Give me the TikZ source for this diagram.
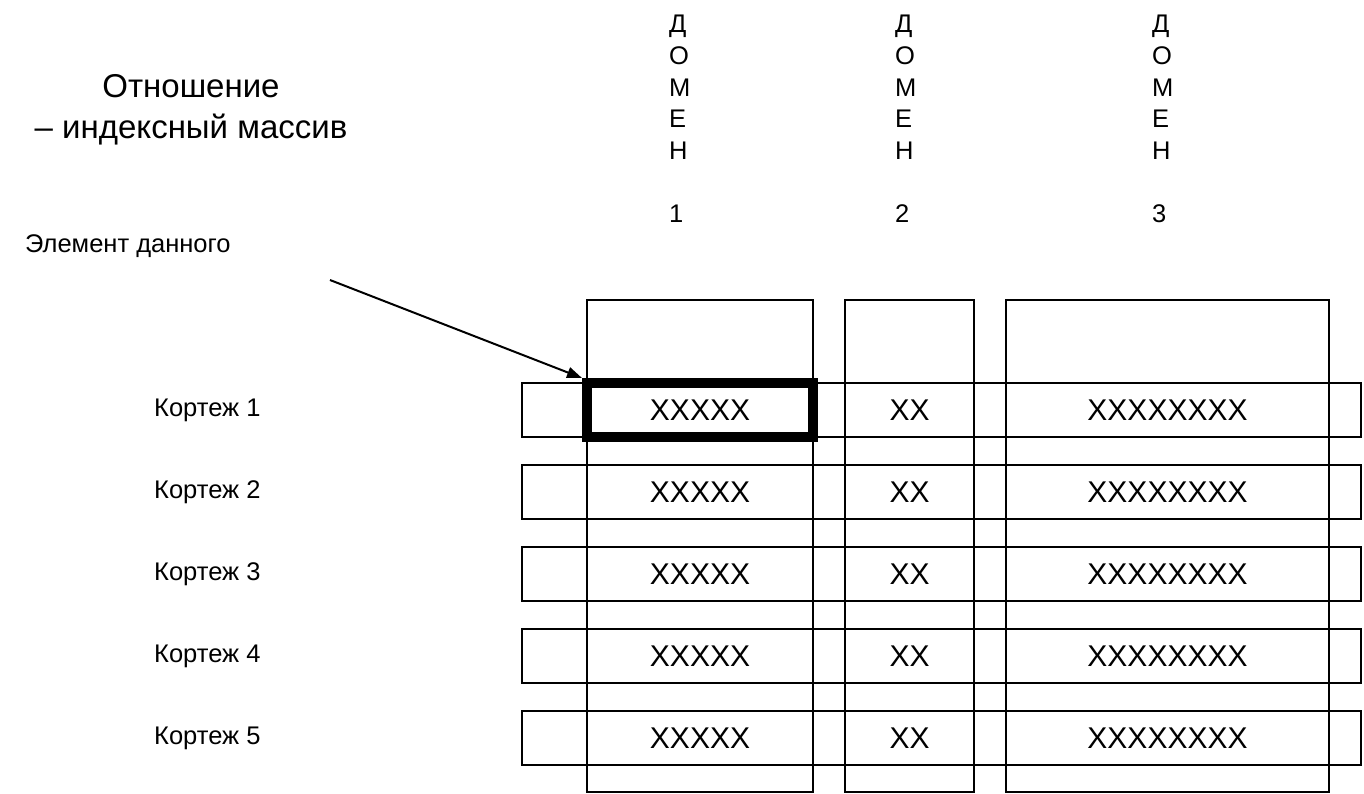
\documentclass[tikz,border=0pt]{standalone}
\usepackage{fontspec}
\setmainfont{Liberation Sans}
\usetikzlibrary{arrows.meta}

\tikzset{
  colbox/.style={draw, line width=1.5pt, inner sep=0pt, minimum height=492pt},
  rowbox/.style={draw, line width=1.5pt, inner sep=0pt, minimum width=839pt, minimum height=54pt},
  cell/.style={inner sep=0pt, font=\fontsize{30}{36}\selectfont},
  tuple/.style={anchor=west, inner sep=0pt, font=\fontsize{25.5}{30}\selectfont},
  domhead/.style={anchor=north west, inner sep=0pt, align=left, font=\fontsize{25.5}{31.7}\selectfont}
}

\begin{document}
\begin{tikzpicture}[x=1pt, y=-1pt]
\useasboundingbox (0,0) rectangle (1364,793);

%%% title %%%
      \node[anchor=base, align=center, inner sep=0pt, font=\fontsize{33}{41}\selectfont] (title) at (191,138)
        { Отношение \\ -- индексный массив };

      %% domains
      \node[domhead] (dom1) at (669,15) { Д\\О\\М\\Е\\Н\\\mbox{}\\1 };
      \node[domhead] (dom2) at (895,15) { Д\\О\\М\\Е\\Н\\\mbox{}\\2 };
      \node[domhead] (dom3) at (1152,15) { Д\\О\\М\\Е\\Н\\\mbox{}\\3 };

      %% columns
      \node[colbox, minimum width=226pt] (col1) at (700,546) {};
      \node[colbox, minimum width=129pt] (col2) at (909.5,546) {};
      \node[colbox, minimum width=323pt] (col3) at (1167.5,546) {};

      %% rows
      \node[rowbox] (row1) at (941.5,410) {};
      \node[rowbox] (row2) at (941.5,492) {};
      \node[rowbox] (row3) at (941.5,574) {};
      \node[rowbox] (row4) at (941.5,656) {};
      \node[rowbox] (row5) at (941.5,738) {};

      \node[tuple] (tup1) at (154,410) { Кортеж 1 };
      \node[tuple] (tup2) at (154,492) { Кортеж 2 };
      \node[tuple] (tup3) at (154,574) { Кортеж 3 };
      \node[tuple] (tup4) at (154,656) { Кортеж 4 };
      \node[tuple] (tup5) at (154,738) { Кортеж 5 };

      %% values
      \node[cell, draw, line width=10pt, minimum width=226pt, minimum height=54pt] (c11) at (700,410) { XXXXX };
      \node[cell] (c12) at (909.5,410) { XX };
      \node[cell] (c13) at (1167.5,410) { XXXXXXXX };
      \node[cell] (c21) at (700,492) { XXXXX };
      \node[cell] (c22) at (909.5,492) { XX };
      \node[cell] (c23) at (1167.5,492) { XXXXXXXX };
      \node[cell] (c31) at (700,574) { XXXXX };
      \node[cell] (c32) at (909.5,574) { XX };
      \node[cell] (c33) at (1167.5,574) { XXXXXXXX };
      \node[cell] (c41) at (700,656) { XXXXX };
      \node[cell] (c42) at (909.5,656) { XX };
      \node[cell] (c43) at (1167.5,656) { XXXXXXXX };
      \node[cell] (c51) at (700,738) { XXXXX };
      \node[cell] (c52) at (909.5,738) { XX };
      \node[cell] (c53) at (1167.5,738) { XXXXXXXX };

      %% data element
      \node[tuple] (elem) at (25,246) { Элемент данного };
      \coordinate (elemstart) at (330,280);
      \draw[line width=2pt, -{Triangle[length=15pt, width=11pt]}] (elemstart) -- (c11.north west);

\end{tikzpicture}
\end{document}
